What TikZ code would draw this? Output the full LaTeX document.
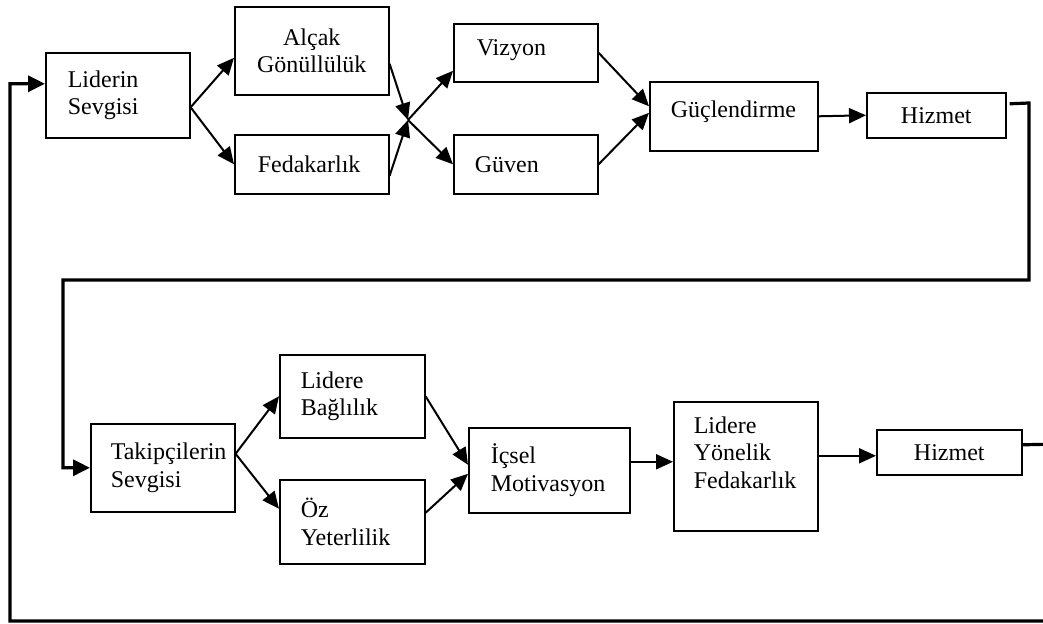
\documentclass[tikz,border=0pt]{standalone}
\usepackage{fontspec}
\setmainfont{Liberation Serif}
\usetikzlibrary{arrows.meta}
\begin{document}
\begin{tikzpicture}[x=0.5pt,y=-0.5pt,
  font=\fontsize{12}{13.8}\selectfont,
  box/.style={draw, line width=0.8pt, rectangle, anchor=north west,
    inner ysep=0pt, align=left},
  cbox/.style={box, align=center},
  arr/.style={line width=1pt, -{Triangle[length=8.5pt,width=7.5pt]}},
  loop/.style={line width=1.6pt, line join=miter, -{Triangle[length=8.5pt,width=8pt]}}]
\useasboundingbox (0,0) rectangle (1043,624);

% upper chain
\node[box, minimum height=42.5pt, text width=50pt, inner xsep=11pt] (lov) at (45,52) {Liderin\\Sevgisi};
\node[cbox, minimum height=44pt, text width=77pt, inner xsep=0pt] (alc) at (234,6) {Alçak\\Gönüllülük};
\node[box, minimum height=29.5pt, text width=54pt, inner xsep=11.5pt] (fed) at (234,134) {Fedakarlık};
\node[box, minimum height=29pt, text width=49pt, inner xsep=11.5pt, text depth=5pt] (viz) at (453,23) {Vizyon};
\node[box, minimum height=29.5pt, text width=51pt, inner xsep=10.5pt] (guv) at (453,134) {Güven};
\node[box, minimum height=34.5pt, text width=63pt, inner xsep=10.5pt, text depth=7pt] (guc) at (649,81) {Güçlendirme};
\node[cbox, minimum height=22.5pt, text width=69.5pt, inner xsep=0pt] (hiz1) at (866,92) {Hizmet};

% lower chain
\node[box, minimum height=44pt, text width=52pt, inner xsep=10pt] (tak) at (90,423) {Takipçilerin\\Sevgisi};
\node[box, minimum height=41.5pt, text width=51.5pt, inner xsep=10.5pt] (lb) at (279,354) {Lidere\\Bağlılık};
\node[box, minimum height=42pt, text width=51.5pt, inner xsep=10.5pt] (oz) at (279,479) {Öz\\Yeterlilik};
\node[box, minimum height=42.5pt, text width=58.5pt, inner xsep=11pt] (ic) at (468,427) {İçsel\\Motivasyon};
\node[box, minimum height=64.5pt, text width=52pt, inner xsep=10pt, text depth=41.5pt] (lyf) at (673,401) {Lidere\\Yönelik\\Fedakarlık};
\node[cbox, minimum height=22.5pt, text width=72.5pt, inner xsep=0pt] (hiz2) at (876,429) {Hizmet};

% junction between the two columns of the upper chain
\coordinate (j1) at (408,120);

% upper connectors
\draw[arr] ([yshift=-6pt]lov.east) -- ([yshift=-3.5pt]alc.west);
\draw[arr] ([yshift=-6pt]lov.east) -- (fed.west);
\draw[arr] ([yshift=-6.5pt]alc.east) -- (j1);
\draw[arr] ([yshift=-5.75pt]fed.east) -- (j1);
\draw[arr] (j1) -- ([yshift=-9pt]viz.west);
\draw[arr] (j1) -- (guv.west);
\draw[arr] (viz.east) -- ([yshift=5pt]guc.west);
\draw[arr] (guv.east) -- ([yshift=1.75pt]guc.west);
\draw[arr] (guc.east) -- (hiz1.west);

% return from the upper chain to the lower chain
\coordinate (r1) at (1029,103);
\coordinate (r2) at (1029,280);
\coordinate (r3) at (63,280);
\draw[loop] ([xshift=1.5pt,yshift=5.75pt]hiz1.east) -- (r1) -- (r2) -- (r3) |- (tak.west);

% lower connectors
\draw[arr] ([yshift=7pt]tak.east) -- (lb.west);
\draw[arr] ([yshift=7pt]tak.east) -- ([yshift=6.5pt]oz.west);
\draw[arr] (lb.east) -- ([yshift=2.75pt]ic.west);
\draw[arr] ([yshift=4.5pt]oz.east) -- ([yshift=-1.75pt]ic.west);
\draw[arr] ([yshift=4.25pt]ic.east) -- ([yshift=2.25pt]lyf.west);
\draw[arr] ([yshift=5.25pt]lyf.east) -- ([yshift=-1.75pt]hiz2.west);

% return from the lower chain to the start
\coordinate (s1) at (1060,444);
\coordinate (s2) at (1060,621);
\coordinate (s3) at (10,621);
\draw[loop] ([yshift=3.75pt]hiz2.east) -- (s1) -- (s2) -- (s3) |- ([yshift=5.75pt]lov.west);
\end{tikzpicture}
\end{document}
